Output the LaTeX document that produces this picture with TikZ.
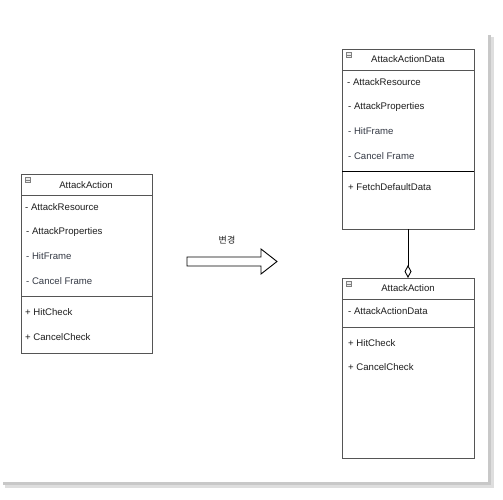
\documentclass[tikz,border=0pt]{standalone}
\usepackage{fontspec}
\setmainfont{Liberation Sans}
\newfontfamily\krfont{Noto Sans CJK KR}
\usetikzlibrary{arrows.meta}
\definecolor{boxline}{HTML}{555555}
\definecolor{txt}{HTML}{1E1E1E}
\definecolor{txtb}{HTML}{353A45}
\definecolor{shadowc}{HTML}{C8C8C8}
\tikzset{
  cls/.style={draw=boxline, line width=0.9pt, fill=white},
  sep/.style={draw=boxline, line width=0.9pt},
  sepd/.style={draw=black, line width=1pt},
  memb/.style={anchor=west, inner sep=0pt, font=\fontsize{9.6}{11}\selectfont, text=txt},
  membb/.style={memb, text=txtb},
  title/.style={anchor=center, inner sep=0pt, font=\fontsize{9.6}{11}\selectfont, text=txt},
  icon/.style={draw=gray, fill=gray!15, line width=0.5pt, minimum size=5pt, inner sep=0pt},
  blockarrow/.style={draw=black, line width=0.9pt, fill=white, line join=miter},
}
\begin{document}
\begin{tikzpicture}[x=1pt,y=-1pt]
\useasboundingbox (0,0) rectangle (503,500);
% page shadow
\fill[shadowc!60] (490,37) rectangle (494,487);
\fill[shadowc!60] (5,484) rectangle (494,488);
\fill[shadowc] (488,35) rectangle (491,485);
\fill[shadowc] (3,482) rectangle (491,485);

% left class
\path[cls] (21,174) rectangle (152,353);
\draw[sep] (21,195) -- (152,195);
\draw[sep] (21,296) -- (152,296);
\node[icon] (li) at (28,180) {};
\draw[gray, line width=0.5pt] (26.2,180) -- (29.8,180);
\node[title] (lt) at (86,185) {AttackAction};
\node[memb] (l1) at (25,207) {- AttackResource};
\node[memb] (l2) at (26,232) {- AttackProperties};
\node[membb] (l3) at (26,256) {- HitFrame};
\node[membb] (l4) at (26,281) {- Cancel Frame};
\node[memb] (l5) at (25,312) {+ HitCheck};
\node[memb] (l6) at (25,337) {+ CancelCheck};

% block arrow
\draw[blockarrow] (187,257) -- (261,257) -- (261,249) -- (277,261.5) -- (261,274) -- (261,266) -- (187,266) -- cycle;
\node[inner sep=0pt, font=\krfont\fontsize{9}{10}\selectfont, text=txt] (lbl) at (227,240) {변경};

% right top class
\path[cls] (342,49) rectangle (474,229);
\draw[sep] (342,70) -- (474,70);
\draw[sepd] (342,171) -- (474,171);
\node[icon] (ri) at (349,55) {};
\draw[gray, line width=0.5pt] (347.2,55) -- (350.8,55);
\node[title] (rt) at (408,59.5) {AttackActionData};
\node[memb] (r1) at (347,82) {- AttackResource};
\node[memb] (r2) at (348,107) {- AttackProperties};
\node[membb] (r3) at (348,131) {- HitFrame};
\node[membb] (r4) at (348,156) {- Cancel Frame};
\node[memb] (r5) at (348,187) {+ FetchDefaultData};
\coordinate (rtb) at (408,229);

% right bottom class
\path[cls] (342,278) rectangle (474,458);
\draw[sep] (342,299) -- (474,299);
\draw[sep] (342,327) -- (474,327);
\node[icon] (bi) at (349,284) {};
\draw[gray, line width=0.5pt] (347.2,284) -- (350.8,284);
\node[title] (bt) at (408,288.5) {AttackAction};
\node[memb] (b1) at (348,311) {- AttackActionData};
\node[memb] (b2) at (348,343) {+ HitCheck};
\node[memb] (b3) at (348,367) {+ CancelCheck};
\coordinate (bbt) at (408,278);

% aggregation
\draw[line width=0.9pt, -{Diamond[open, width=7pt, length=13pt, line width=0.9pt]}] (rtb) -- (bbt);
\end{tikzpicture}
\end{document}
